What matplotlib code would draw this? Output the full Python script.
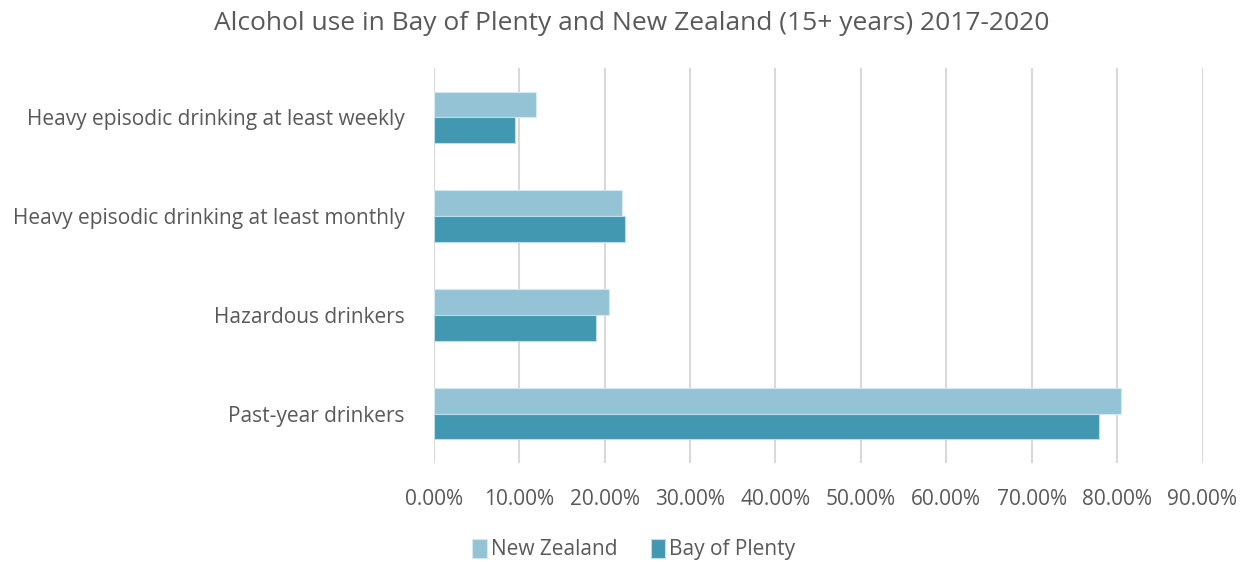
import numpy as np
import matplotlib.pyplot as plt
from matplotlib.ticker import FuncFormatter

plt.rcParams['font.family'] = ['Open Sans', 'DejaVu Sans']

# data
categories = ['Past-year drinkers', 'Hazardous drinkers',
              'Heavy episodic drinking at least monthly',
              'Heavy episodic drinking at least weekly']
new_zealand = [0.804, 0.2056, 0.2205, 0.1194]
bay_of_plenty = [0.779, 0.1904, 0.224, 0.0956]
x_ticks = [0.0, 0.1, 0.2, 0.3, 0.4, 0.5, 0.6, 0.7, 0.8, 0.9]

nz_col = '#93C3D4'
bop_col = '#4298B0'
txt_col = '#595959'

fig = plt.figure(figsize=(12.5, 5.62), dpi=100)
ax = fig.add_axes([0.347, 0.176, 0.615, 0.703])

y = np.arange(len(categories))
h = 0.26
ax.barh(y + h / 2, new_zealand, height=h, color=nz_col, edgecolor='#d6e9f0',
        linewidth=0.8, label='New Zealand', zorder=3)
ax.barh(y - h / 2, bay_of_plenty, height=h, color=bop_col, edgecolor='#bcdde8',
        linewidth=0.8, label='Bay of Plenty', zorder=3)

ax.set_xlim(0, 0.9)
ax.set_ylim(-0.5, len(categories) - 0.5)
ax.set_xticks(x_ticks)
ax.xaxis.set_major_formatter(FuncFormatter(lambda v, p: f'{v * 100:.2f}%'))
ax.set_yticks(y)
ax.set_yticklabels(categories)
ax.grid(axis='x', color='#d9d9d9', linewidth=1.5, zorder=0)
for s in ax.spines.values():
    s.set_visible(False)
ax.tick_params(axis='both', length=0, colors=txt_col, labelsize=15)
ax.tick_params(axis='x', pad=19)
ax.tick_params(axis='y', pad=21)

fig.suptitle('Alcohol use in Bay of Plenty and New Zealand (15+ years) 2017-2020',
             x=0.505, y=0.98, fontsize=19, color=txt_col)

handles, labels = ax.get_legend_handles_labels()
fig.legend(handles, labels, loc='center', bbox_to_anchor=(0.507, 0.022), ncol=2,
           frameon=False, fontsize=15, labelcolor=txt_col, handlelength=0.7,
           handleheight=1.0, handletextpad=0.2, columnspacing=1.6)

fig.savefig('out.png', dpi=100)
